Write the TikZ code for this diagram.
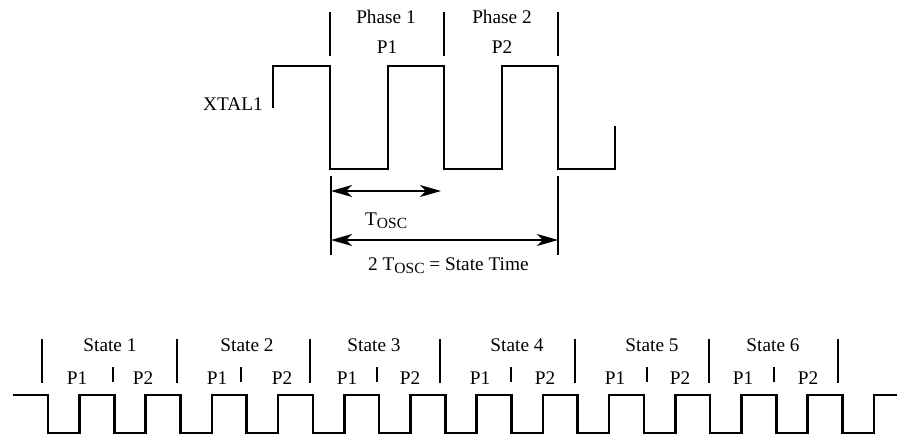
\documentclass[tikz,border=0pt]{standalone}
\usepackage{fontspec}
\setmainfont{Liberation Serif}
\usetikzlibrary{arrows.meta}
\tikzset{
  wave/.style={line width=2.6pt, line join=miter, line cap=butt},
  tick/.style={line width=1.6pt},
  dimarrow/.style={line width=1.5pt, {Stealth[length=21pt,width=12pt,inset=6pt]}-{Stealth[length=21pt,width=12pt,inset=6pt]}},
  lbl/.style={inner sep=0pt, anchor=base, font=\fontsize{19.3}{19.3}\selectfont},
}
\newcommand{\osc}{\raisebox{-0.35ex}{\fontsize{15.5}{15.5}\selectfont OSC}}
\begin{document}
\begin{tikzpicture}[x=1pt,y=-1pt]
\useasboundingbox (0,0) rectangle (897,434);
% ---------- top: XTAL1 ----------
\draw[wave] (273,108) -- (273,66) -- (330,66) -- (330,169) -- (388,169) -- (388,66)
  -- (444,66) -- (444,169) -- (502,169) -- (502,66) -- (558,66) -- (558,169)
  -- (615,169) -- (615,126);
\node[lbl, anchor=base east] (xtal) at (263,110) {XTAL1};
\draw[tick] (330,12) -- (330,56);
\draw[tick] (444,12) -- (444,56);
\draw[tick] (558,12) -- (558,56);
\node[lbl] (ph1) at (386,23) {Phase 1};
\node[lbl] (ph2) at (502,23) {Phase 2};
\node[lbl] (tp1) at (387,53) {P1};
\node[lbl] (tp2) at (502,53) {P2};
% reference lines and dimension arrows
\coordinate (r1t) at (331,176);
\coordinate (r1b) at (331,255);
\coordinate (r2t) at (558,176);
\coordinate (r2b) at (558,255);
\draw[tick] (r1t) -- (r1b);
\draw[tick] (r2t) -- (r2b);
\coordinate (a1s) at (331,191);
\coordinate (a1e) at (441,191);
\coordinate (a2s) at (331,240);
\coordinate (a2e) at (558,240);
\draw[dimarrow] (a1s) -- (a1e);
\draw[dimarrow] (a2s) -- (a2e);
\node[lbl, anchor=base west] (tosc) at (365,225) {T\osc};
\node[lbl, anchor=base west] (stime) at (368,270) {2 T\osc{} = State Time};
% ---------- bottom: states ----------
\draw[wave] (13,395) foreach \k in {0,...,12}{
   -- ({48+66.2*\k},395) -- ({48+66.2*\k},433) -- ({79.5+66.2*\k},433) -- ({79.5+66.2*\k},395)}
   -- (897,395);
\foreach \x in {42,177,310,440,575,709,838}{
  \draw[tick] (\x,339) -- (\x,383);
}
\foreach \x in {113,241,377,511,647,774}{
  \draw[tick] (\x,367) -- (\x,382);
}
\foreach \x/\n in {110/1,247/2,374/3,517/4,652/5,773/6}{
  \node[lbl] (st\n) at (\x,351) {State \n};
}
\foreach \x/\y/\n in {77/143/1,217/282/2,347/410/3,480/545/4,615/680/5,743/808/6}{
  \node[lbl] (p1s\n) at (\x,384) {P1};
  \node[lbl] (p2s\n) at (\y,384) {P2};
}
\end{tikzpicture}
\end{document}
